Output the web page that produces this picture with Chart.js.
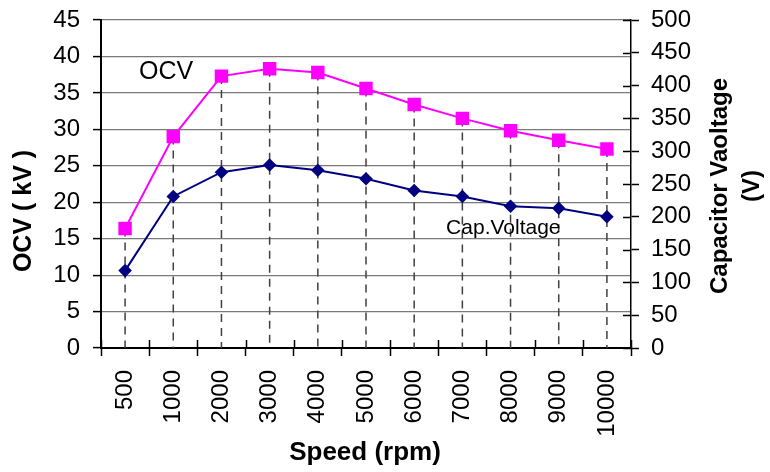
<!DOCTYPE html>
<html>
<head>
<meta charset="utf-8">
<script src="https://cdn.jsdelivr.net/npm/chart.js@4/dist/chart.umd.min.js"></script>
<style>
  body { margin: 0; background: #fff; }
  canvas { display: block; }
</style>
</head>
<body>
<canvas id="speedChart" width="770" height="472"></canvas>
<script>
// data
let speeds = ["500", "1000", "2000", "3000", "4000", "5000", "6000", "7000", "8000", "9000", "10000"];
let ocvKV = [16.4, 29.0, 37.3, 38.3, 37.8, 35.6, 33.4, 31.5, 29.8, 28.5, 27.3];
let capVolt = [118, 231, 268, 279, 271, 258, 240, 231, 216, 213, 200];

let ocvColor = "#ff00ff";
let capColor = "#000080";
let font = "'Liberation Sans', Arial, sans-serif";

// dashed drop lines + crossing ticks + titles
let extras = {
    id: "extras",
    beforeDatasetsDraw(chart) {
        let ctx = chart.ctx;
        let x = chart.scales.x, y = chart.scales.y, y1 = chart.scales.y1;
        let area = chart.chartArea;
        ctx.save();
        ctx.strokeStyle = "#404040";
        ctx.lineWidth = 1.5;
        ctx.setLineDash([8, 6]);
        for (let i = 0; i < speeds.length; i++) {
            let px = x.getPixelForValue(i);
            let top = Math.min(y.getPixelForValue(ocvKV[i]), y1.getPixelForValue(capVolt[i]));
            ctx.beginPath();
            ctx.moveTo(px, top);
            ctx.lineTo(px, area.bottom);
            ctx.stroke();
        }
        ctx.restore();
    },
    afterDraw(chart) {
        let ctx = chart.ctx;
        let x = chart.scales.x, y = chart.scales.y, y1 = chart.scales.y1;
        let area = chart.chartArea;
        ctx.save();
        // inner halves of the crossing ticks
        ctx.strokeStyle = "#000";
        ctx.lineWidth = 1.5;
        for (let i = 0; i <= speeds.length; i++) {
            let px = Math.round(x.getPixelForValue(i - 0.5)) + 0.5;
            ctx.beginPath();
            ctx.moveTo(px, area.bottom);
            ctx.lineTo(px, area.bottom - 8);
            ctx.stroke();
        }
        y1.ticks.forEach(function(t) {
            let py = Math.round(y1.getPixelForValue(t.value)) + 0.5;
            ctx.beginPath();
            ctx.moveTo(area.right, py);
            ctx.lineTo(area.right - 8, py);
            ctx.stroke();
        });

        // series labels inside the plot
        ctx.fillStyle = "#000";
        ctx.textAlign = "center";
        ctx.textBaseline = "middle";
        ctx.font = "25px " + font;
        ctx.fillText("OCV", x.getPixelForValue(0.85), y.getPixelForValue(37.8));
        ctx.font = "21px " + font;
        ctx.fillText("Cap.Voltage", x.getPixelForValue(7.85), y.getPixelForValue(16.5));

        // axis titles
        ctx.font = "bold 26px " + font;
        ctx.fillText("Speed (rpm)", 365, 453);

        ctx.save();
        ctx.translate(24, 211);
        ctx.rotate(-Math.PI / 2);
        ctx.font = "bold 25px " + font;
        ctx.fillText("OCV ( kV )", 0, 0);
        ctx.restore();

        ctx.save();
        ctx.translate(720, 186);
        ctx.rotate(-Math.PI / 2);
        ctx.font = "bold 24px " + font;
        ctx.fillText("Capacitor Vaoltage", 0, 0);
        ctx.fillText("(V)", 0, 32);
        ctx.restore();

        ctx.restore();
    }
};

new Chart("speedChart", {
    type: "line",
    data: {
        labels: speeds,
        datasets: [{
            label: "OCV",
            data: ocvKV,
            yAxisID: "y",
            borderColor: ocvColor,
            backgroundColor: ocvColor,
            borderWidth: 2,
            pointStyle: "rect",
            pointRadius: 9.5,
            pointBorderWidth: 0,
            tension: 0
        }, {
            label: "Cap.Voltage",
            data: capVolt,
            yAxisID: "y1",
            borderColor: capColor,
            backgroundColor: capColor,
            borderWidth: 2,
            pointStyle: "rectRot",
            pointRadius: 6.8,
            pointBorderWidth: 0,
            tension: 0
        }]
    },
    options: {
        responsive: false,
        animation: false,
        layout: { padding: { top: 20, left: 0, right: 0, bottom: 0 } },
        plugins: {
            legend: { display: false },
            tooltip: { enabled: false },
            title: { display: false }
        },
        scales: {
            x: {
                offset: true,
                afterFit(scale) { scale.height = 124; },
                grid: {
                    offset: true,
                    drawOnChartArea: false,
                    tickLength: 8,
                    tickColor: "#000",
                    tickWidth: 1.5
                },
                border: { color: "#000", width: 2 },
                ticks: {
                    autoSkip: false,
                    minRotation: 90,
                    maxRotation: 90,
                    padding: 14,
                    color: "#000",
                    font: { family: font, size: 24 }
                }
            },
            y: {
                position: "left",
                min: 0,
                max: 45,
                afterFit(scale) {
                    scale.width = 101;
                    scale.paddingTop = 0;
                    scale.paddingBottom = 0;
                },
                grid: {
                    color: "#7a7a7a",
                    lineWidth: 1.2,
                    tickLength: 8,
                    tickColor: "#000",
                    tickWidth: 1.5
                },
                border: { color: "#000", width: 2 },
                ticks: {
                    stepSize: 5,
                    padding: 13,
                    color: "#000",
                    font: { family: font, size: 24 }
                }
            },
            y1: {
                position: "right",
                min: 0,
                max: 500,
                afterFit(scale) {
                    scale.width = 139;
                    scale.paddingTop = 0;
                    scale.paddingBottom = 0;
                },
                grid: {
                    drawOnChartArea: false,
                    tickLength: 8,
                    tickColor: "#000",
                    tickWidth: 1.5
                },
                border: { color: "#000", width: 1.5 },
                ticks: {
                    stepSize: 50,
                    padding: 12,
                    color: "#000",
                    font: { family: font, size: 24 }
                }
            }
        }
    },
    plugins: [extras]
});
</script>
</body>
</html>
